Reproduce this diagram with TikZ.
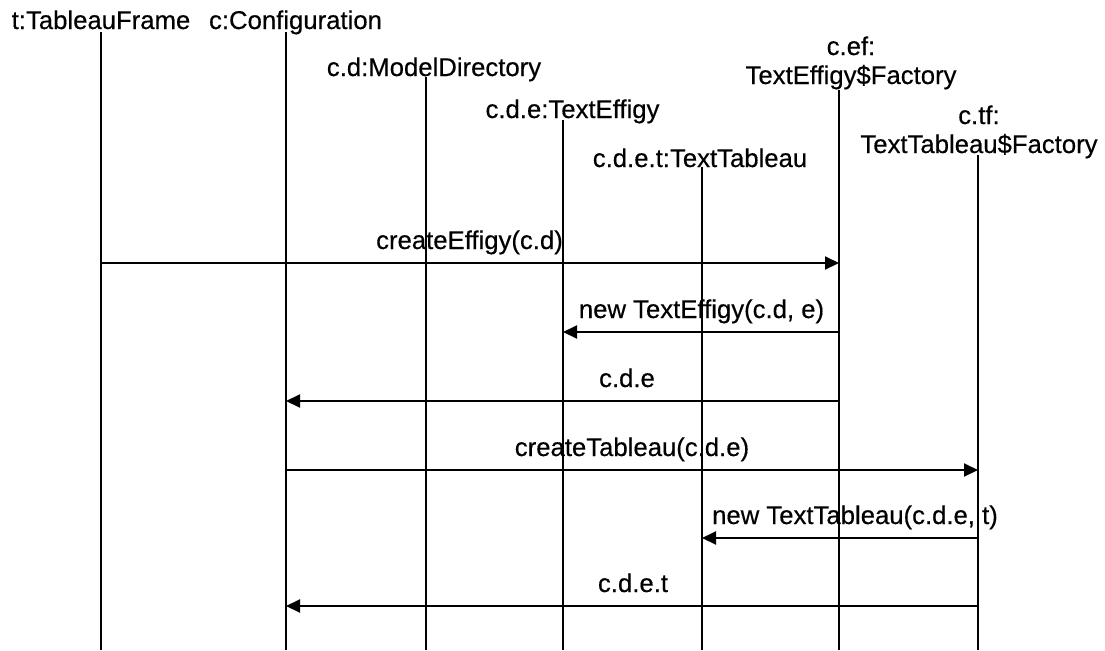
\documentclass[tikz,border=0pt]{standalone}
\usepackage{fontspec}
\setmainfont{Liberation Sans}[FakeBold=0.4]
\usepackage{tikz}
\usetikzlibrary{arrows.meta}

\begin{document}
\begin{tikzpicture}[x=0.5pt,y=-0.5pt]
    \tikzset{obj/.style = {shape=rectangle,draw=none,inner sep=0pt,anchor=base,align=center,font=\fontsize{12.85}{14.5}\selectfont}}
    \tikzset{call/.style = {shape=rectangle,draw=none,inner sep=0pt,anchor=base,font=\fontsize{12.85}{14.5}\selectfont}}
    \tikzset{life/.style = {-,line width=1.4pt}}
    \tikzset{msg/.style = {->,line width=1pt,> = {Triangle[length=7pt,width=6.5pt]}}}

    \useasboundingbox (0,0) rectangle (1105,650);

    % objects

    \node[obj] (frame) at (101,29) {t:TableauFrame};
    \node[obj] (cfg) at (295.5,29) {c:Configuration};
    \node[obj] (dir) at (434,76) {c.d:ModelDirectory};
    \node[obj] (effigy) at (572.5,118) {c.d.e:TextEffigy};
    \node[obj] (tableau) at (700,167) {c.d.e.t:TextTableau};
    \node[obj] (ef) at (851,84) {c.ef:\\TextEffigy\$Factory};
    \node[obj] (tf) at (979,153) {c.tf:\\TextTableau\$Factory};

    % lifeline ends
    \coordinate (frametop) at (101,32);   \coordinate (framebot) at (101,650);
    \coordinate (cfgtop) at (286,32);     \coordinate (cfgbot) at (286,650);
    \coordinate (dirtop) at (426,77);     \coordinate (dirbot) at (426,650);
    \coordinate (effigytop) at (563,120); \coordinate (effigybot) at (563,650);
    \coordinate (tableautop) at (702,167);\coordinate (tableaubot) at (702,650);
    \coordinate (eftop) at (839,90);      \coordinate (efbot) at (839,650);
    \coordinate (tftop) at (978,155);     \coordinate (tfbot) at (978,650);

    % message rows
    \coordinate (m1) at (0,263);
    \coordinate (m2) at (0,332);
    \coordinate (m3) at (0,401);
    \coordinate (m4) at (0,470);
    \coordinate (m5) at (0,538);
    \coordinate (m6) at (0,606);

    \node[call] (l1) at (469.5,249) {createEffigy(c.d)};
    \node[call] (l2) at (701.5,318) {new TextEffigy(c.d, e)};
    \node[call] (l3) at (627,387) {c.d.e};
    \node[call] (l4) at (632,456) {createTableau(c.d.e)};
    \node[call] (l5) at (855,524) {new TextTableau(c.d.e, t)};
    \node[call] (l6) at (633,592) {c.d.e.t};

    \draw[msg] (frametop |- m1) to (eftop |- m1);
    \draw[msg] (eftop |- m2) to (effigytop |- m2);
    \draw[msg] (eftop |- m3) to (cfgtop |- m3);
    \draw[msg] (cfgtop |- m4) to (tftop |- m4);
    \draw[msg] (tftop |- m5) to (tableautop |- m5);
    \draw[msg] (tftop |- m6) to (cfgtop |- m6);

    % lifelines
    \foreach \o in {frame,cfg,dir,effigy,tableau,ef,tf}
        \draw[life] (\o top) to (\o bot);
\end{tikzpicture}
\end{document}
